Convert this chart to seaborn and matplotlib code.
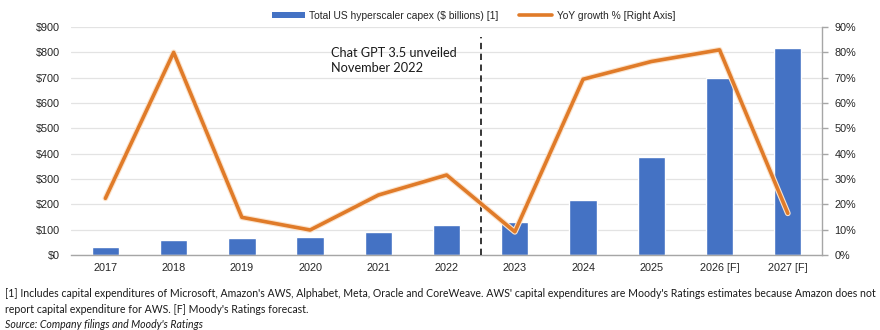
import numpy as np
import pandas as pd
import seaborn as sns
import matplotlib.pyplot as plt
import matplotlib.patheffects as pe
from matplotlib.lines import Line2D
from matplotlib.patches import Patch

years = ["2017", "2018", "2019", "2020", "2021", "2022", "2023", "2024", "2025", "2026 [F]", "2027 [F]"]
capex = [33, 59, 66, 72, 91, 118, 129, 218, 386, 697, 816]
yoy_growth = [22.4, 80.0, 14.9, 9.9, 23.7, 31.6, 9.2, 69.4, 76.4, 81.0, 16.5]
left_ticks = list(range(0, 901, 100))
right_ticks = list(range(0, 91, 10))

BLUE = "#4472C4"
ORANGE = "#E07B29"
GREY_TXT = "#262626"

df = pd.DataFrame({"year": years, "capex": capex, "growth": yoy_growth,
                   "pos": np.arange(len(years))})

sns.set_theme(style="white")
plt.rcParams["font.family"] = ["Liberation Sans", "DejaVu Sans"]

fig = plt.figure(figsize=(8.8, 3.3), dpi=100)
ax = fig.add_axes([0.081, 0.227, 0.853, 0.691])

sns.barplot(data=df, x="year", y="capex", order=years, color=BLUE,
            saturation=1, width=0.4, ax=ax, zorder=2)
ax.set_ylim(0, 900)
ax.set_xlim(-0.5, len(years) - 0.5)
ax.set_yticks(left_ticks)
ax.set_yticklabels([f"${v}" for v in left_ticks])
ax.yaxis.grid(True, color="#E3E3E3", linewidth=0.9, zorder=0)
ax.set_axisbelow(True)
ax.set_xlabel("")
ax.set_ylabel("")
ax.tick_params(axis="y", length=0, labelsize=7.8, colors=GREY_TXT, pad=8)
ax.tick_params(axis="x", length=0, labelsize=7.8, colors=GREY_TXT, pad=6)
for s in ["top", "left", "right"]:
    ax.spines[s].set_visible(False)
ax.spines["bottom"].set_color("#A6A6A6")
ax.spines["bottom"].set_linewidth(1)
# boundary tick marks between categories
ax.set_xticks(np.arange(-0.5, len(years), 1.0), minor=True)
ax.tick_params(axis="x", which="minor", length=4, color="#A6A6A6", width=1)

ax2 = ax.twinx()
sns.lineplot(data=df, x="pos", y="growth", color=ORANGE, linewidth=2.6, ax=ax2,
             path_effects=[pe.Stroke(linewidth=4.2, foreground="#FBE3CC"), pe.Normal()],
             zorder=3)
ax2.set_xlim(-0.5, len(years) - 0.5)
ax2.set_ylim(0, 90)
ax2.set_yticks(right_ticks)
ax2.set_yticklabels([f"{v}%" for v in right_ticks])
ax2.set_ylabel("")
ax2.set_xlabel("")
ax2.grid(False)
for s in ["top", "left", "bottom"]:
    ax2.spines[s].set_visible(False)
ax2.spines["right"].set_color("#A6A6A6")
ax2.spines["right"].set_linewidth(1)
ax2.tick_params(axis="y", length=4, width=1, color="#A6A6A6", direction="out",
                labelsize=7.8, colors=GREY_TXT, pad=5)

# ChatGPT release marker
ax.axvline(5.5, ymin=0, ymax=0.956, color="#262626", linestyle=(0, (3.5, 2.5)),
           linewidth=1.3, zorder=4)
ax.text(3.3, 822, "Chat GPT 3.5 unveiled\nNovember 2022", fontsize=9.2,
        family=["Lato", "DejaVu Sans"], color="#1A1A1A", va="top", ha="left",
        linespacing=1.35)

handles = [Patch(facecolor=BLUE, edgecolor="none"),
           Line2D([0], [0], color=ORANGE, linewidth=2.6)]
fig.legend(handles, ["Total US hyperscaler capex ($ billions) [1]", "YoY growth % [Right Axis]"],
           loc="center", bbox_to_anchor=(0.538, 0.953), ncol=2, frameon=False,
           fontsize=7.4, handlelength=3.2, handleheight=0.5, columnspacing=2.0,
           handletextpad=0.45, labelcolor=GREY_TXT)

foot = ["Lato", "DejaVu Sans"]
fig.text(0.006, 0.112, "[1] Includes capital expenditures of Microsoft, Amazon's AWS, Alphabet, Meta, Oracle and CoreWeave. "
         "AWS' capital expenditures are Moody's Ratings estimates because Amazon does not",
         fontsize=7.6, family=foot, color="#1A1A1A", va="center")
fig.text(0.006, 0.062, "report capital expenditure for AWS. [F] Moody's Ratings forecast.",
         fontsize=7.6, family=foot, color="#1A1A1A", va="center")
fig.text(0.006, 0.016, "Source: Company filings and Moody's Ratings",
         fontsize=7.6, family=foot, style="italic", color="#1A1A1A", va="center")

fig.savefig("out.png", dpi=100, facecolor="white")
